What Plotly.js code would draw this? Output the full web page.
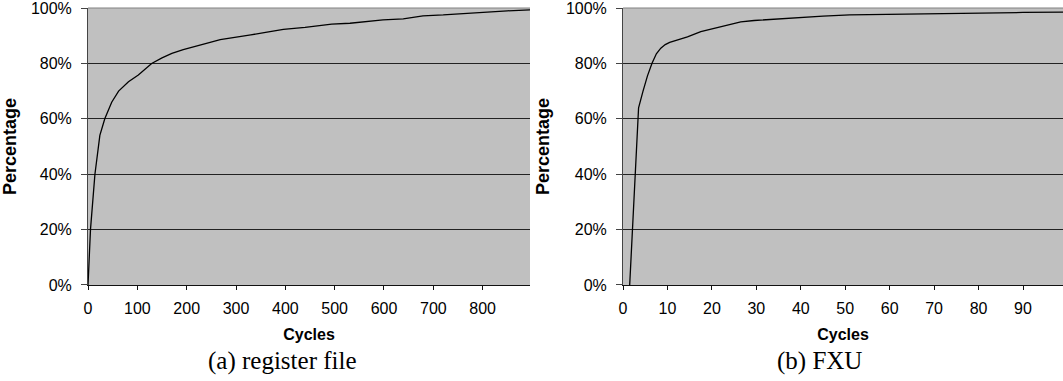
<!DOCTYPE html>
<html>
<head>
<meta charset="utf-8">
<script src="https://cdn.plot.ly/plotly-3.0.1.min.js"></script>
<style>
  html, body { margin: 0; padding: 0; background: #ffffff; }
  #chart { width: 1063px; height: 381px; }
</style>
</head>
<body>
<div id="chart"></div>
<script>
// (a) register file: cumulative percentage vs. cycles
const regCycles = [0, 2, 5, 14, 24, 34, 48, 62, 82, 102, 129, 150, 170, 193, 217, 240, 268, 300, 330, 360, 396, 440, 477, 494, 531, 572, 598, 639, 679, 720, 747, 780, 808, 850, 896];
const regPercent = [0, 10, 20, 40, 54, 60, 66, 70, 73.4, 75.8, 80, 82, 83.6, 85, 86, 87.2, 88.6, 89.4, 90.3, 91.2, 92.3, 93, 93.9, 94.2, 94.5, 95.4, 95.7, 96.1, 97.2, 97.5, 97.8, 98.3, 98.7, 99.0, 99.3];

// (b) FXU: cumulative percentage vs. cycles
const fxuCycles = [1.5, 3.5, 4.5, 5.5, 6.5, 7.5, 8.5, 9.5, 10.5, 12.5, 14.5, 17.5, 20.5, 23.5, 26.5, 29.5, 35, 40, 45, 51, 62, 70, 80, 90, 99];
const fxuPercent = [0, 64, 70, 75.5, 80, 83.5, 85.5, 86.8, 87.6, 88.6, 89.6, 91.5, 92.7, 93.8, 95, 95.5, 96.1, 96.6, 97.1, 97.5, 97.8, 98.1, 98.3, 98.4, 98.5];

const yTicks = [0, 20, 40, 60, 80, 100];
const yTickText = ['0%', '20%', '40%', '60%', '80%', '100%'];
const captions = ['(a) register file', '(b) FXU'];

const tickFont = { family: 'Liberation Sans, Arial, sans-serif', size: 16, color: '#000' };
const titleFont = { family: 'Liberation Sans, Arial, sans-serif', size: 16, color: '#000', weight: 'bold' };

function xAxis(domain, maxX, step, anchor) {
  return {
    domain: domain, anchor: anchor, range: [0, maxX],
    dtick: step, tick0: 0, showgrid: false, zeroline: false,
    showline: true, linecolor: '#111', linewidth: 1,
    ticks: 'outside', ticklen: 4, tickcolor: '#111', tickwidth: 1,
    tickfont: tickFont, ticklabelstandoff: 5,
    title: { text: 'Cycles', font: titleFont, standoff: 12 }
  };
}
function yAxis(anchor) {
  return {
    domain: [0.252, 0.979], anchor: anchor, range: [0, 100.01],
    tickmode: 'array', tickvals: yTicks, ticktext: yTickText,
    ticklabeloverflow: 'allow',
    showgrid: true, gridcolor: '#222', gridwidth: 1, zeroline: false,
    showline: true, linecolor: '#444', linewidth: 1,
    ticks: 'outside', ticklen: 6, tickcolor: '#444', tickwidth: 1,
    tickfont: tickFont, ticklabelstandoff: 6,
    title: { text: 'Percentage', font: { ...titleFont, size: 18 }, standoff: 11 }
  };
}

const traces = [
  { x: regCycles, y: regPercent, xaxis: 'x', yaxis: 'y', type: 'scatter', mode: 'lines',
    line: { color: '#000', width: 1.3 }, hoverinfo: 'skip', cliponaxis: false },
  { x: fxuCycles, y: fxuPercent, xaxis: 'x2', yaxis: 'y2', type: 'scatter', mode: 'lines',
    line: { color: '#000', width: 1.3 }, hoverinfo: 'skip', cliponaxis: false }
];

const layout = {
  width: 1063, height: 381,
  margin: { l: 0, r: 0, t: 0, b: 0 },
  paper_bgcolor: '#fff', plot_bgcolor: '#c0c0c0',
  showlegend: false,
  xaxis: xAxis([0.0828, 0.4986], 896, 100, 'y'),
  yaxis: yAxis('x'),
  xaxis2: xAxis([0.5861, 1.0], 99, 10, 'y2'),
  yaxis2: yAxis('x2'),
  shapes: [
    { type: 'line', xref: 'x domain', yref: 'y domain', x0: 0, x1: 1, y0: 1, y1: 1, line: { color: '#808080', width: 1 } },
    { type: 'line', xref: 'x2 domain', yref: 'y2 domain', x0: 0, x1: 1, y0: 1, y1: 1, line: { color: '#808080', width: 1 } }
  ],
  annotations: [
    { text: captions[0], xref: 'paper', yref: 'paper', x: 0.2653, y: 0.0525, xanchor: 'center', yanchor: 'middle',
      showarrow: false, font: { family: 'Liberation Serif, Times New Roman, serif', size: 25, color: '#000' } },
    { text: captions[1], xref: 'paper', yref: 'paper', x: 0.7714, y: 0.0525, xanchor: 'center', yanchor: 'middle',
      showarrow: false, font: { family: 'Liberation Serif, Times New Roman, serif', size: 25, color: '#000' } }
  ]
};

Plotly.newPlot('chart', traces, layout, { staticPlot: true, displayModeBar: false });
</script>
</body>
</html>
